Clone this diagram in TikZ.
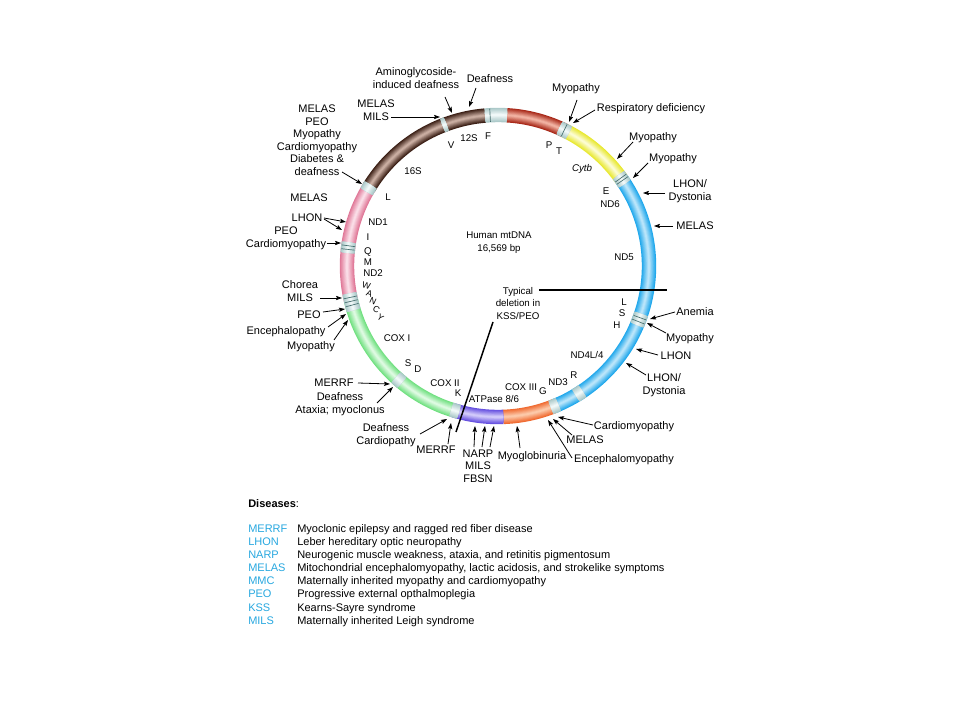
\documentclass[tikz,border=0pt]{standalone}
\usepackage{fontspec}
\setmainfont{Liberation Sans}
\usetikzlibrary{arrows.meta}
\definecolor{legblue}{RGB}{40,168,224}
\definecolor{brownD}{RGB}{58,30,20}
\definecolor{brownL}{RGB}{200,172,160}
\definecolor{redD}{RGB}{168,40,24}
\definecolor{redL}{RGB}{240,176,160}
\definecolor{yelD}{RGB}{232,232,48}
\definecolor{yelL}{RGB}{252,252,208}
\definecolor{bluD}{RGB}{32,168,236}
\definecolor{bluL}{RGB}{184,228,250}
\definecolor{oraD}{RGB}{240,106,48}
\definecolor{oraL}{RGB}{252,200,168}
\definecolor{purD}{RGB}{102,80,224}
\definecolor{purL}{RGB}{208,200,250}
\definecolor{grnD}{RGB}{112,224,128}
\definecolor{grnL}{RGB}{220,250,224}
\definecolor{pnkD}{RGB}{224,120,152}
\definecolor{pnkL}{RGB}{250,220,230}
\definecolor{bndD}{RGB}{170,200,200}
\definecolor{bndL}{RGB}{240,248,248}
\definecolor{bndline}{RGB}{70,110,110}
\tikzset{
  lbl/.style={font=\fontsize{8.25}{9.45}\selectfont, inner sep=0pt, anchor=mid, align=center},
  ilbl/.style={font=\fontsize{7.3}{9.4}\selectfont, inner sep=0pt, anchor=mid, align=center},
  tlbl/.style={font=\fontsize{6.6}{8}\selectfont, inner sep=0pt, anchor=center},
  leg/.style={font=\fontsize{8.25}{9.75}\selectfont, inner sep=0pt, anchor=mid west},
  arr/.style={line width=0.6pt, -{Stealth[length=4.5pt,width=3.2pt,inset=0.8pt]}},
  del/.style={line width=1.1pt},
  bline/.style={line width=0.5pt, bndline},
}
\newcommand\ringseg[4]{%
  \foreach \k in {0,...,7}{%
    \pgfmathsetmacro\w{10.8*(1-\k/8)}%
    \pgfmathsetmacro\p{100*\k/7}%
    \draw[line width=\w pt, #4!\p!#3] (#1:151) arc[start angle=#1, end angle=#2, radius=151];
  }}
\newcommand\bandline[1]{\draw[bline] (#1:144.3) -- (#1:157.7);}
\newcommand\pointer[3]{\coordinate (#1s) at #2; \coordinate (#1t) at #3; \draw[arr] (#1s) -- (#1t);}
\begin{document}
\begin{tikzpicture}[x=0.75pt,y=-0.75pt]
\fill[white] (0,0) rectangle (960,720);
\useasboundingbox (0,0) rectangle (960,720);
% ---------------- ring ----------------
\begin{scope}[shift={(498,266)}, yscale=-1]
  \ringseg{94.9}{149}{brownD}{brownL}
  \ringseg{63.5}{86.6}{redD}{redL}
  \ringseg{35}{63.5}{yelD}{yelL}
  \ringseg{-68}{35}{bluD}{bluL}
  \ringseg{-88}{-68}{oraD}{oraL}
  \ringseg{-107}{-88}{purD}{purL}
  \ringseg{-167}{-107}{grnD}{grnL}
  \ringseg{149}{193}{pnkD}{pnkL}
  % gene boundary bands
  \ringseg{86.6}{94.9}{bndD}{bndL} \bandline{93}
  \ringseg{62}{66}{bndD}{bndL} \bandline{64}
  \ringseg{33}{37}{bndD}{bndL} \bandline{34.5} \bandline{35.6}
  \ringseg{-23}{-18.5}{bndD}{bndL} \bandline{-20} \bandline{-21.6}
  \ringseg{-59}{-56}{bndD}{bndL}
  \ringseg{-69.5}{-66.5}{bndD}{bndL}
  \ringseg{-108}{-105}{bndD}{bndL}
  \ringseg{-132.5}{-129.5}{bndD}{bndL}
  \ringseg{190.5}{197}{bndD}{bndL} \bandline{192} \bandline{193.5} \bandline{195}
  \ringseg{171}{175}{bndD}{bndL} \bandline{172.3} \bandline{173.7}
  \ringseg{147.5}{150.5}{bndD}{bndL}
  \ringseg{110}{111.5}{bndD}{bndL}
\end{scope}
% ---------------- inner labels ----------------
\node[ilbl] (gV) at (451,145) {V};
\node[ilbl] (g12S) at (469,138) {12S};
\node[ilbl] (gF) at (488,136) {F};
\node[ilbl] (g16S) at (413,171) {16S};
\node[ilbl] (gL) at (388,197) {L};
\node[ilbl] (gND1) at (378,222) {ND1};
\node[ilbl] (gI) at (368,237) {I};
\node[ilbl] (gQ) at (368,251) {Q};
\node[ilbl] (gM) at (368,262) {M};
\node[ilbl] (gND2) at (373,273) {ND2};
\node[tlbl, rotate=-15] (gW) at (366.5,285.5) {W};
\node[tlbl, rotate=-20] (gA) at (369.5,293.5) {A};
\node[tlbl, rotate=-25] (gN) at (373,301.5) {N};
\node[tlbl, rotate=-30] (gC) at (376.5,309.5) {C};
\node[tlbl, rotate=-35] (gY) at (380.5,317.5) {Y};
\node[ilbl] (gCOXI) at (397,338) {COX I};
\node[ilbl] (gS) at (408,363) {S};
\node[ilbl] (gD) at (418,369) {D};
\node[ilbl] (gCOXII) at (445,383) {COX II};
\node[ilbl] (gK) at (458,393) {K};
\node[ilbl] (gATP) at (494,399) {ATPase 8/6};
\node[ilbl] (gCOXIII) at (521,387) {COX III};
\node[ilbl] (gG) at (543,391) {G};
\node[ilbl] (gND3) at (558,382) {ND3};
\node[ilbl] (gR) at (574,375) {R};
\node[ilbl] (gND4) at (587,355) {ND4L/4};
\node[ilbl] (gH) at (617,325) {H};
\node[ilbl] (gS2) at (622,313) {S};
\node[ilbl] (gL2) at (624,302) {L};
\node[ilbl] (gND5) at (624,257) {ND5};
\node[ilbl] (gND6) at (610,204) {ND6};
\node[ilbl] (gE) at (606,191) {E};
\node[ilbl] (gCyt) at (582,168) {\itshape Cytb};
\node[ilbl] (gP) at (549,145) {P};
\node[ilbl] (gT) at (559,151) {T};
\node[ilbl] (title) at (499,248) {Human mtDNA\\16,569 bp};
\node[ilbl] (typ) at (518,316) {Typical\\deletion in\\KSS/PEO};
% deletion lines
\coordinate (dh1) at (539,290); \coordinate (dh2) at (667,290);
\draw[del] (dh1) -- (dh2);
\coordinate (dd1) at (493,322); \coordinate (dd2) at (456,432);
\draw[del] (dd1) -- (dd2);
% ---------------- outer labels ----------------
\node[lbl] (n1) at (416,85) {Aminoglycoside-\\induced deafness};
\node[lbl] (n2) at (490,79) {Deafness};
\node[lbl] (n3) at (376,117) {MELAS\\MILS};
\node[lbl] (n4) at (317,172) {MELAS\\PEO\\Myopathy\\Cardiomyopathy\\Diabetes \&\\deafness};
\node[lbl] (n5) at (309,198) {MELAS};
\node[lbl] (n6) at (307,218) {LHON};
\node[lbl] (n7) at (286,244) {PEO\\Cardiomyopathy};
\node[lbl] (n8) at (300,298) {Chorea\\MILS};
\node[lbl] (n9) at (309,315) {PEO};
\node[lbl] (n10) at (286,331) {Encephalopathy};
\node[lbl] (n11) at (311,346) {Myopathy};
\node[lbl] (n12) at (334,383) {MERRF};
\node[lbl] (n13) at (340,410) {Deafness\\Ataxia; myoclonus};
\node[lbl] (n14) at (386,441) {Deafness\\Cardiopathy};
\node[lbl] (n15) at (436,450) {MERRF};
\node[lbl] (n16) at (478,479) {NARP\\MILS\\FBSN};
\node[lbl] (n17) at (532,456) {Myoglobinuria};
\node[lbl] (n18) at (634,426) {Cardiomyopathy};
\node[lbl] (n19) at (585,440) {MELAS};
\node[lbl] (n20) at (624,459) {Encephalomyopathy};
\node[lbl] (n21) at (664,391) {LHON/\\Dystonia};
\node[lbl] (n22) at (676,356) {LHON};
\node[lbl] (n23) at (690,338) {Myopathy};
\node[lbl] (n24) at (695,312) {Anemia};
\node[lbl] (n25) at (695,226) {MELAS};
\node[lbl] (n26) at (690,197) {LHON/\\Dystonia};
\node[lbl] (n27) at (673,158) {Myopathy};
\node[lbl] (n28) at (653,137) {Myopathy};
\node[lbl] (n29) at (651,108) {Respiratory deficiency};
\node[lbl] (n30) at (576,88) {Myopathy};
% ---------------- pointers ----------------
\pointer{a1}{(445,97)}{(452,113)}
\pointer{a2}{(476,88)}{(469,107)}
\pointer{a3}{(391,117)}{(440,117)}
\pointer{a4}{(342,172)}{(362,184)}
\pointer{a6}{(324,218)}{(346,222)}
\pointer{a6b}{(324,219)}{(342,230)}
\pointer{a7}{(327,243)}{(341,243)}
\pointer{a8}{(320,298)}{(342,298)}
\pointer{a9}{(323,312)}{(345,309)}
\pointer{a10}{(328,327)}{(346,314)}
\pointer{a11}{(334,340)}{(348,320)}
\pointer{a12}{(358,383)}{(390,384)}
\pointer{a13}{(377,403)}{(393,387)}
\pointer{a14}{(420,434)}{(447,419)}
\pointer{a15}{(448,444)}{(451,423)}
\pointer{a16}{(474,447)}{(475,426)}
\pointer{a16b}{(482,447)}{(485,426)}
\pointer{a16c}{(490,447)}{(494,426)}
\pointer{a17}{(520,448)}{(517,426)}
\pointer{a18}{(593,425)}{(558,417)}
\pointer{a19}{(572,435)}{(553,419)}
\pointer{a20}{(572,458)}{(548,420)}
\pointer{a21}{(646,375)}{(626,363)}
\pointer{a22}{(658,355)}{(636,349)}
\pointer{a23}{(666,333)}{(647,323)}
\pointer{a24}{(675,312)}{(650,319)}
\pointer{a25}{(673,226)}{(654,226)}
\pointer{a26}{(665,193)}{(643,193)}
\pointer{a27}{(648,163)}{(633,178)}
\pointer{a28}{(633,142)}{(617,159)}
\pointer{a29}{(595,110)}{(573,123)}
\pointer{a30}{(577,100)}{(569,122)}
% ---------------- legend ----------------
\node[leg] (lhead) at (248,504) {\textbf{Diseases}:};
\node[leg, legblue] (k1) at (248,529) {MERRF};
\node[leg] (d1) at (297,529) {Myoclonic epilepsy and ragged red fiber disease};
\node[leg, legblue] (k2) at (248,542) {LHON};
\node[leg] (d2) at (297,542) {Leber hereditary optic neuropathy};
\node[leg, legblue] (k3) at (248,555) {NARP};
\node[leg] (d3) at (297,555) {Neurogenic muscle weakness, ataxia, and retinitis pigmentosum};
\node[leg, legblue] (k4) at (248,568) {MELAS};
\node[leg] (d4) at (297,568) {Mitochondrial encephalomyopathy, lactic acidosis, and strokelike symptoms};
\node[leg, legblue] (k5) at (248,581) {MMC};
\node[leg] (d5) at (297,581) {Maternally inherited myopathy and cardiomyopathy};
\node[leg, legblue] (k6) at (248,594) {PEO};
\node[leg] (d6) at (297,594) {Progressive external opthalmoplegia};
\node[leg, legblue] (k7) at (248,608) {KSS};
\node[leg] (d7) at (297,608) {Kearns-Sayre syndrome};
\node[leg, legblue] (k8) at (248,621) {MILS};
\node[leg] (d8) at (297,621) {Maternally inherited Leigh syndrome};
\end{tikzpicture}
\end{document}
